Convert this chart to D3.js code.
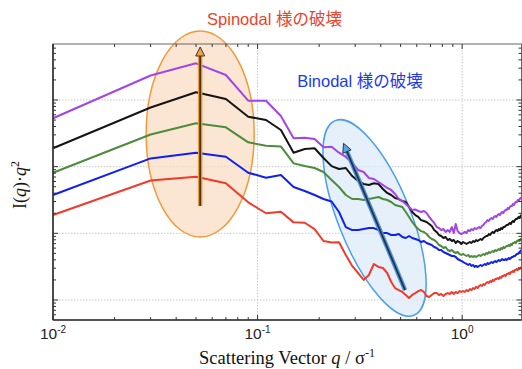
<!DOCTYPE html>
<html>
<head>
<meta charset="utf-8">
<script src="https://cdn.jsdelivr.net/npm/d3@7"></script>
<style>
  body { margin: 0; background: #fff; }
  svg { display: block; }
</style>
</head>
<body>
<svg id="chart" width="522" height="369"></svg>
<script>
// Scattering vector grid (σ^-1)
const q = [
  0.01,0.03,0.05,0.07,0.09,0.11,0.13,0.15,0.17,0.19,
  0.21,0.23,0.25,0.27,0.29,0.31,0.33,0.35,0.37,0.39,
  0.41,0.43,0.45,0.47,0.49,0.51,0.53,0.55,0.57,0.59,
  0.61,0.63,0.65,0.67,0.69,0.71,0.73,0.75,0.77,0.79,
  0.81,0.83,0.85,0.87,0.89,0.91,0.93,0.95,0.97,0.99,
  1.01,1.03,1.05,1.07,1.09,1.11,1.13,1.15,1.17,1.19,
  1.21,1.23,1.25,1.27,1.29,1.31,1.33,1.35,1.37,1.39,
  1.41,1.43,1.45,1.47,1.49,1.51,1.53,1.55,1.57,1.59,
  1.61,1.63,1.65,1.67,1.69,1.71,1.73,1.75,1.77,1.79,
  1.81,1.83,1.85,1.87,1.89,1.91,1.93,1.95
];

// I(q)·q² for each run (arbitrary units)
const purpleRun = [
  532,2330,3550,2370,976,976,575,266,272,260,
  195,199,162,140,114,89.1,83.2,67.6,65.3,58.9,
  53.1,47.9,44.7,38.9,32.7,30.5,27.5,24.8,22.4,22.8,
  21.6,20.9,21.6,20.2,17.6,15.8,14.3,12.4,12.0,11.2,
  11.6,10.5,11.2,10.5,12.4,10.1,13.8,10.8,10.1,9.77,
  10.1,10.5,10.1,11.2,10.8,11.6,11.2,12.0,11.6,12.0,
  12.4,12.0,12.9,13.3,14.3,14.8,15.8,15.3,16.4,17.0,
  16.4,17.6,18.2,17.6,18.8,19.5,18.8,20.2,20.9,20.2,
  21.6,22.4,22.4,24.0,23.2,24.8,25.7,25.7,27.5,26.6,
  28.5,29.5,29.5,31.6,30.5,32.7,33.9,33.9
];
const blackRun = [
  189,772,1305,1035,562,501,355,162,184,189,
  135,102,92.3,95.5,72.4,61.0,55.0,53.1,56.3,55.0,
  46.2,40.3,37.6,33.9,32.7,30.5,29.5,24.8,20.9,18.8,
  17.6,15.8,15.3,14.8,13.8,12.9,11.2,10.5,9.44,9.12,
  8.51,8.81,7.94,8.22,7.67,7.94,7.16,7.67,7.41,6.92,
  7.41,7.16,6.92,7.16,7.41,7.16,7.67,7.41,7.94,7.67,
  7.94,8.22,7.94,8.51,8.81,9.12,9.12,9.77,9.44,10.1,
  10.5,10.1,10.8,11.2,10.8,11.6,11.2,12.0,11.6,12.4,
  12.4,12.9,13.3,13.3,13.8,14.3,13.8,14.8,15.3,14.8,
  15.8,16.4,16.4,17.0,17.6,17.0,18.2,18.8
];
const greenRun = [
  81.2,304,447,389,232,206,201,112,102,95.5,
  83.2,63.1,49.5,37.6,32.7,32.7,31.6,32.7,33.9,35.1,
  32.7,31.6,29.5,26.6,25.7,24.8,20.9,17.6,14.8,12.9,
  11.6,10.8,10.5,9.77,8.81,8.22,7.94,7.41,6.68,6.46,
  6.03,6.24,5.62,5.43,5.62,5.25,5.07,5.25,4.90,4.73,
  4.90,4.73,4.57,4.73,4.42,4.57,4.42,4.57,4.42,4.57,
  4.73,4.57,4.73,4.90,4.73,5.07,4.90,5.25,5.07,5.25,
  5.43,5.25,5.62,5.43,5.62,5.82,5.62,6.03,5.82,6.24,
  6.03,6.24,6.46,6.46,6.68,6.46,6.92,6.68,7.16,7.16,
  7.41,7.16,7.67,7.67,7.94,7.67,8.22,8.22
];
const blueRun = [
  37.6,133,162,141,81.2,68.3,75.0,49.5,43.2,37.6,
  32.7,30.0,20.9,12.4,11.2,11.2,11.6,12.0,12.0,11.2,
  10.1,10.1,9.44,9.44,9.77,8.81,8.51,9.12,8.51,8.22,
  7.94,7.41,7.67,7.16,6.92,6.68,6.24,6.03,5.62,5.62,
  5.25,5.07,4.90,4.73,4.57,4.57,4.42,4.12,3.98,3.85,
  3.72,3.59,3.47,3.35,3.47,3.24,3.35,3.13,3.24,3.13,
  3.24,3.35,3.24,3.35,3.47,3.35,3.59,3.47,3.59,3.72,
  3.59,3.72,3.85,3.72,3.85,3.98,3.85,3.98,4.12,3.98,
  3.98,4.12,3.98,4.12,4.27,4.12,4.27,4.42,4.42,4.57,
  4.57,4.73,4.90,4.90,5.07,5.25,5.43,5.62
];
const redRun = [
  18.8,62.0,70.7,56.3,29.2,20.0,21.1,14.6,14.4,11.6,
  7.67,7.29,7.34,4.73,3.24,2.54,2.00,2.37,3.47,3.13,
  3.02,2.54,1.86,1.51,1.41,1.32,1.19,1.07,1.19,1.27,
  1.36,1.41,1.32,1.15,1.11,1.19,1.27,1.27,1.19,1.23,
  1.15,1.23,1.27,1.23,1.32,1.23,1.32,1.27,1.36,1.32,
  1.36,1.32,1.41,1.36,1.46,1.41,1.51,1.46,1.57,1.51,
  1.62,1.68,1.62,1.74,1.68,1.80,1.86,1.80,1.93,1.86,
  2.00,1.93,2.07,2.07,2.14,2.07,2.21,2.14,2.29,2.29,
  2.37,2.29,2.45,2.45,2.54,2.45,2.63,2.63,2.72,2.63,
  2.82,2.82,2.92,2.82,3.02,2.92,3.02,3.13
];

const runNames  = ["red", "blue", "green", "black", "purple"];
const runColors = ["#ee3b2b", "#1020f2", "#4c8c3a", "#141414", "#a344e6"];
const runValues = [redRun, blueRun, greenRun, blackRun, purpleRun];

// Axis tick positions
const xMajorTicks = [0.01, 0.1, 1];
const xTickExponents = ["-2", "-1", "0"];
const yMajorTicks = [1, 10, 100, 1000];

// Annotation anchors in data space
const spinodalCenter = { q: 0.0524, v: 309 };
const spinodalArrow = { q0: 0.0524, v0: 25.7, q1: 0.0524, v1: 6240 };
const binodalCenter = { q: 0.373, v: 17.0 };
const binodalArrow = { q0: 0.526, v0: 1.41, q1: 0.263, v1: 224 };

const svg = d3.select("#chart");
const W = 522, H = 369;
const plotL = 53, plotR = 521.5, plotT = 44, plotB = 320;

svg.append("rect").attr("width", W).attr("height", H).attr("fill", "#fff");

const x = d3.scaleLog().domain([0.01, 1.95]).range([plotL, plotR]);
const y = d3.scaleLog().domain([0.501, 6920]).range([plotB, plotT]);

// minor tick values for log axes
const xMinor = [];
[0.01, 0.1, 1].forEach(d => { for (let k = 2; k <= 9; k++) { const v = d * k; if (v <= 1.95) xMinor.push(v); } });
const yMinor = [];
[0.1, 1, 10, 100, 1000].forEach(d => { for (let k = 2; k <= 9; k++) { const v = d * k; if (v >= 0.501 && v <= 6920) yMinor.push(v); } });

// dotted grid at each decade
const grid = svg.append("g").attr("stroke", "#c8c8c8").attr("stroke-width", 1).attr("stroke-dasharray", "1.5,1.5");
grid.selectAll(null).data(xMajorTicks.filter(d => d > 0.01)).join("line")
  .attr("x1", d => x(d)).attr("x2", d => x(d)).attr("y1", plotT).attr("y2", plotB);
grid.selectAll(null).data(yMajorTicks).join("line")
  .attr("x1", plotL).attr("x2", plotR).attr("y1", d => y(d)).attr("y2", d => y(d));

// highlighted regions
svg.append("ellipse")
  .attr("cx", x(spinodalCenter.q)).attr("cy", y(spinodalCenter.v))
  .attr("rx", 54).attr("ry", 103)
  .attr("fill", "#f8dec4").attr("fill-opacity", 0.75)
  .attr("stroke", "#f09a3a").attr("stroke-width", 1.5);

const bcx = x(binodalCenter.q), bcy = y(binodalCenter.v);
svg.append("ellipse")
  .attr("cx", bcx).attr("cy", bcy)
  .attr("rx", 36).attr("ry", 105)
  .attr("transform", `rotate(-22 ${bcx} ${bcy})`)
  .attr("fill", "#dce9fa").attr("fill-opacity", 0.7)
  .attr("stroke", "#4c9ef0").attr("stroke-width", 1.5);

// data curves
const line = d3.line().x((d, i) => x(q[i])).y(d => y(d));
svg.append("g").selectAll("path").data(runValues).join("path")
  .attr("d", d => line(d))
  .attr("fill", "none")
  .attr("stroke", (d, i) => runColors[i])
  .attr("stroke-width", 2)
  .attr("stroke-linejoin", "round");

// arrows
function arrow(a, outer, inner, headFill) {
  const x0 = x(a.q0), y0 = y(a.v0), x1 = x(a.q1), y1 = y(a.v1);
  const dx = x1 - x0, dy = y1 - y0, len = Math.hypot(dx, dy);
  const ux = dx / len, uy = dy / len, px = -uy, py = ux;
  const hl = 9, hw = 4.5;
  const bx = x1 - ux * hl, by = y1 - uy * hl;
  const g = svg.append("g");
  g.append("line").attr("x1", x0).attr("y1", y0).attr("x2", bx).attr("y2", by)
    .attr("stroke", outer).attr("stroke-width", 4.5);
  g.append("line").attr("x1", x0).attr("y1", y0).attr("x2", bx).attr("y2", by)
    .attr("stroke", inner).attr("stroke-width", 1.8);
  g.append("path")
    .attr("d", `M${x1},${y1}L${bx + px * hw},${by + py * hw}L${bx - px * hw},${by - py * hw}Z`)
    .attr("fill", headFill).attr("stroke", inner).attr("stroke-width", 1).attr("stroke-linejoin", "round");
}
arrow(spinodalArrow, "#ef9a3c", "#4a3418", "#f2a24a");
arrow(binodalArrow, "#4c95e6", "#2a3442", "#5aa2ee");

// frame and ticks
const axes = svg.append("g").attr("stroke", "#333").attr("fill", "none");
axes.append("rect").attr("x", plotL).attr("y", plotT).attr("width", plotR - plotL).attr("height", plotB - plotT)
  .attr("stroke", "#666").attr("stroke-width", 1);
axes.append("line").attr("x1", plotL).attr("x2", plotR).attr("y1", plotB).attr("y2", plotB).attr("stroke-width", 1.6);
axes.append("line").attr("x1", plotL).attr("x2", plotL).attr("y1", plotT).attr("y2", plotB).attr("stroke-width", 1.6);

function ticksX(vals, len) {
  axes.append("g").selectAll("line").data(vals).join("line")
    .attr("x1", d => x(d)).attr("x2", d => x(d)).attr("y1", plotB).attr("y2", plotB - len).attr("stroke-width", 1);
  axes.append("g").selectAll("line").data(vals).join("line")
    .attr("x1", d => x(d)).attr("x2", d => x(d)).attr("y1", plotT).attr("y2", plotT + len).attr("stroke-width", 1);
}
function ticksY(vals, len) {
  axes.append("g").selectAll("line").data(vals).join("line")
    .attr("y1", d => y(d)).attr("y2", d => y(d)).attr("x1", plotL).attr("x2", plotL + len).attr("stroke-width", 1);
  axes.append("g").selectAll("line").data(vals).join("line")
    .attr("y1", d => y(d)).attr("y2", d => y(d)).attr("x1", plotR).attr("x2", plotR - len).attr("stroke-width", 1);
}
ticksX(xMajorTicks, 5);
ticksX(xMinor, 3);
ticksY(yMajorTicks, 5);
ticksY(yMinor, 3);

// x tick labels: 10^n
const sans = "'Liberation Sans', Arial, Helvetica, sans-serif";
const xl = svg.append("g").attr("font-family", sans).attr("fill", "#222");
xMajorTicks.forEach((d, i) => {
  const t = xl.append("text").attr("x", x(d)).attr("y", 339).attr("text-anchor", "middle").attr("font-size", 15.5);
  t.append("tspan").text("10");
  t.append("tspan").attr("font-size", 10).attr("dy", -6).text(xTickExponents[i]);
});

// axis titles
const serif = "'Liberation Serif', 'Times New Roman', Times, serif";
const xt = svg.append("text").attr("x", 287).attr("y", 364).attr("text-anchor", "middle")
  .attr("font-family", serif).attr("font-size", 18.5).attr("fill", "#111");
xt.append("tspan").text("Scattering Vector ");
xt.append("tspan").attr("font-style", "italic").text("q");
xt.append("tspan").text(" / σ");
xt.append("tspan").attr("font-size", 12).attr("dy", -7).text("-1");

const yt = svg.append("text").attr("transform", "translate(26,185) rotate(-90)").attr("text-anchor", "middle")
  .attr("font-family", serif).attr("font-size", 18).attr("fill", "#111");
yt.append("tspan").text("I(");
yt.append("tspan").attr("font-style", "italic").text("q");
yt.append("tspan").text(")·");
yt.append("tspan").attr("font-style", "italic").text("q");
yt.append("tspan").attr("font-size", 12).attr("dy", -7).text("2");

// region captions
const cap = "'Liberation Sans', Arial, 'Noto Sans CJK JP', sans-serif";
svg.append("text").attr("x", 274.5).attr("y", 25).attr("text-anchor", "middle")
  .attr("font-family", cap).attr("font-size", 16.5).attr("fill", "#e8442c").text("Spinodal 様の破壊");
svg.append("text").attr("x", 360).attr("y", 87).attr("text-anchor", "middle")
  .attr("font-family", cap).attr("font-size", 16.5).attr("fill", "#2238ee").text("Binodal 様の破壊");
</script>
</body>
</html>
